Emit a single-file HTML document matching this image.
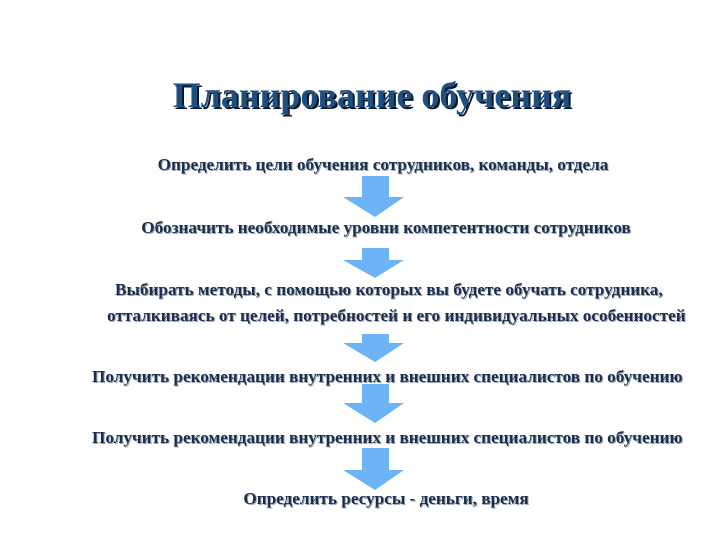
<!DOCTYPE html>
<html><head><meta charset="utf-8"><style>
body{margin:0;width:728px;height:546px;background:#fff;position:relative;overflow:hidden;font-family:"Liberation Serif","Noto Serif CJK SC",serif;}
.t{position:absolute;white-space:nowrap;font-weight:bold;color:#1b2f4c;font-size:17.2px;text-shadow:1px 1px 0 #9aa6b8;line-height:1;}
.title{position:absolute;left:0;width:744px;text-align:center;top:77px;font-size:36px;font-weight:bold;color:#1f4f80;text-shadow:2px 2px 0 #0b1a2c;line-height:1;}
svg{position:absolute;left:0;top:0}
</style></head><body>
<div class="title">Планирование обучения</div>
<div class="t" style="left:0;width:766px;text-align:center;top:156px">Определить цели обучения сотрудников, команды, отдела</div>
<div class="t" style="left:0;width:772px;text-align:center;top:219px">Обозначить необходимые уровни компетентности сотрудников</div>
<div class="t" style="left:115px;top:281px">Выбирать методы, с помощью которых вы будете обучать сотрудника,</div>
<div class="t" style="left:107px;top:307px">отталкиваясь от целей, потребностей и его индивидуальных особенностей</div>
<div class="t" style="left:92px;top:368px">Получить рекомендации внутренних и внешних специалистов по обучению</div>
<div class="t" style="left:92px;top:429px">Получить рекомендации внутренних и внешних специалистов по обучению</div>
<div class="t" style="left:0;width:772px;text-align:center;top:490px">Определить ресурсы - деньги, время</div>
<svg width="728" height="546">
<g fill="#6cb4f5">
<polygon points="362,176 389,176 389,197 404,197 375,217 343,197 362,197"/>
<polygon points="362,248 389,248 389,260 404,260 375,278 343,260 362,260"/>
<polygon points="362,334 389,334 389,343 404,343 375,362 343,343 362,343"/>
<polygon points="362,384 389,384 389,403 404,403 375,423 343,403 362,403"/>
<polygon points="362,448 389,448 389,470 404,470 375,490 343,470 362,470"/>
</g></svg>
</body></html>
